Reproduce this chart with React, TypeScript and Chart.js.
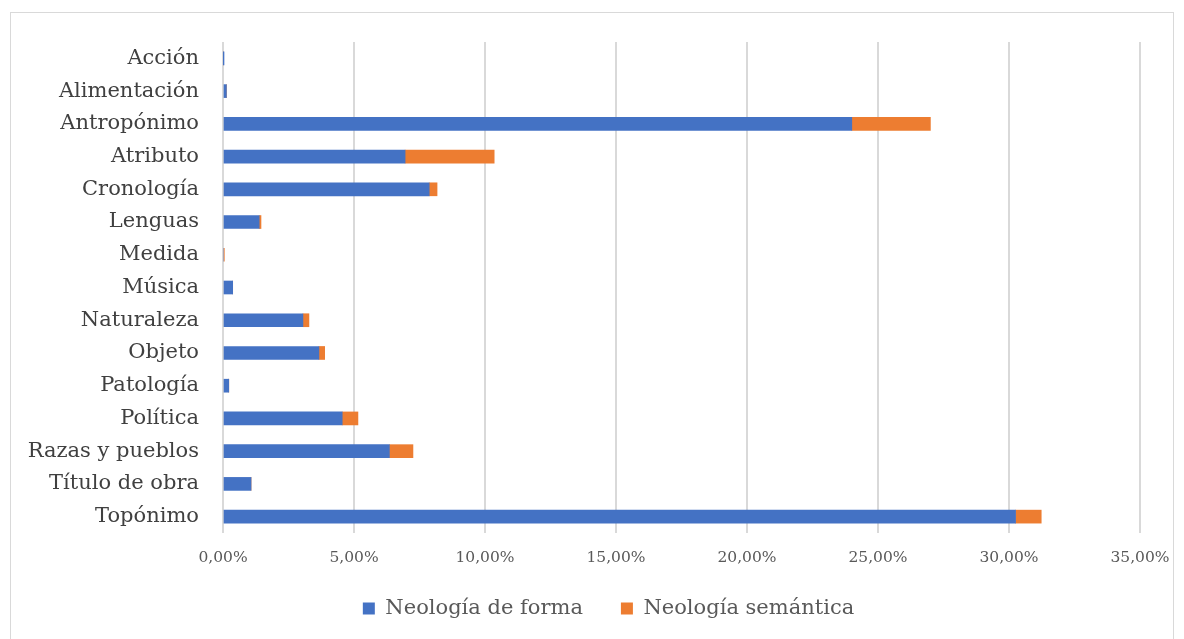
import React, { useEffect, useRef } from "react";
import { Chart, registerables } from "chart.js";

Chart.register(...registerables);

const categories = [
  "Acción",
  "Alimentación",
  "Antropónimo",
  "Atributo",
  "Cronología",
  "Lenguas",
  "Medida",
  "Música",
  "Naturaleza",
  "Objeto",
  "Patología",
  "Política",
  "Razas y pueblos",
  "Título de obra",
  "Topónimo",
];

const formaValues = [0.01, 0.13, 24.0, 6.95, 7.87, 1.38, 0, 0.37, 3.05, 3.66, 0.22, 4.55, 6.35, 1.07, 30.25];
const semanticaValues = [0, 0, 3.0, 3.4, 0.3, 0.07, 0.05, 0, 0.23, 0.22, 0, 0.6, 0.9, 0, 0.98];

const seriesNames = ["Neología de forma", "Neología semántica"];
const xTickMax = 35;
const xTickStep = 5;

const serif = "'DejaVu Serif', serif";

const noLabelClip = (s: any) => {
  s._computeLabelArea = () => undefined;
};

export default function App() {
  const ref = useRef<HTMLCanvasElement | null>(null);

  useEffect(() => {
    if (!ref.current) return;
    const chart = new Chart(ref.current, {
      type: "bar",
      data: {
        labels: categories,
        datasets: [
          {
            label: seriesNames[0],
            data: formaValues,
            backgroundColor: "#4472C4",
            barThickness: 13,
          },
          {
            label: seriesNames[1],
            data: semanticaValues,
            backgroundColor: "#ED7D31",
            barThickness: 13,
          },
        ],
      },
      options: {
        indexAxis: "y",
        animation: false,
        responsive: false,
        maintainAspectRatio: false,
        layout: { padding: { top: 29, right: 33, left: 66, bottom: 10 } },
        plugins: {
          tooltip: { enabled: false },
          legend: {
            position: "bottom",
            labels: {
              boxWidth: 12,
              boxHeight: 12,
              padding: 38,
              color: "#595959",
              font: { family: serif, size: 21 },
            },
          },
        },
        scales: {
          x: {
            stacked: true,
            min: 0,
            max: xTickMax,
            ticks: {
              stepSize: xTickStep,
              color: "#595959",
              padding: 16,
              font: { family: serif, size: 15.5 },
              callback: (v: any) => Number(v).toFixed(2).replace(".", ",") + "%",
            },
            grid: { color: "#d9d9d9", lineWidth: 2, drawTicks: false },
            border: { display: false },
            afterFit: (s: any) => {
              s.height = 27;
              s.paddingLeft = 0;
              s.paddingRight = 0;
              noLabelClip(s);
            },
          },
          y: {
            stacked: true,
            ticks: {
              color: "#404040",
              padding: 24,
              font: { family: serif, size: 21 },
            },
            grid: { display: false, drawTicks: false },
            border: { display: false },
            afterFit: (s: any) => {
              s.width = 146;
              s.paddingTop = 10;
              s.paddingBottom = 10;
              noLabelClip(s);
            },
          },
        },
      },
    });
    return () => chart.destroy();
  }, []);

  return (
    <div
      style={{
        position: "absolute",
        left: 10,
        top: 12,
        width: 1164,
        height: 640,
        border: "1px solid #d9d9d9",
        boxSizing: "border-box",
        background: "#fff",
      }}
    >
      <canvas ref={ref} width={1162} height={626} style={{ display: "block" }} />
    </div>
  );
}
